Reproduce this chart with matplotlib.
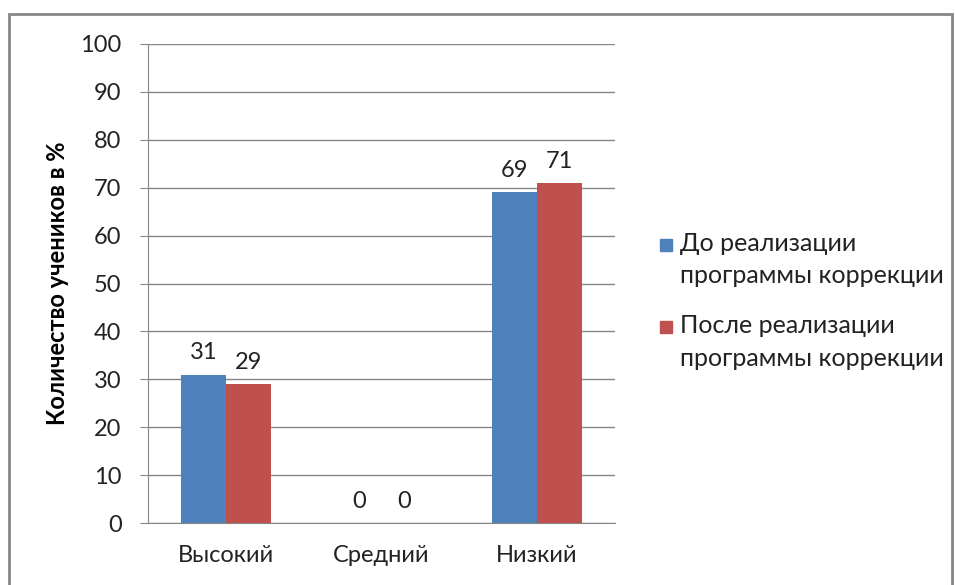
import numpy as np
import matplotlib.pyplot as plt
from matplotlib.patches import Rectangle

plt.rcParams['font.family'] = ['Lato', 'DejaVu Sans']

categories = ['Высокий', 'Средний', 'Низкий']
before = [31, 0, 69]
after = [29, 0, 71]
series_names = ['До реализации\nпрограммы коррекции',
                'После реализации\nпрограммы коррекции']
colors = ['#4F81BD', '#C0504D']

fig = plt.figure(figsize=(9.55, 5.85), dpi=100)
W, H = 955, 585
ax = fig.add_axes([148 / W, 1 - 523 / H, (615 - 148) / W, (523 - 44) / H])

# grey frame around the chart
fig.patches.append(Rectangle((9 / W, -0.05), (952 - 9) / W, 1 - 14 / H + 0.05,
                             transform=fig.transFigure, fill=False,
                             edgecolor='#868686', linewidth=2))

fs = 17
x = np.arange(len(categories))
bw = 0.29
b1 = ax.bar(x - bw / 2, before, bw, color=colors[0], label=series_names[0])
b2 = ax.bar(x + bw / 2, after, bw, color=colors[1], label=series_names[1])

for bars, vals in ((b1, before), (b2, after)):
    for r, v in zip(bars, vals):
        ax.annotate(str(v), (r.get_x() + r.get_width() / 2, v),
                    xytext=(0, 8), textcoords='offset points',
                    ha='center', va='bottom', fontsize=fs, color='#222222')

ax.set_xlim(-0.5, 2.5)
ax.set_ylim(0, 100)
ax.set_yticks(range(0, 101, 10))
ax.set_xticks(x)
ax.set_xticklabels(categories)
ax.tick_params(axis='y', length=6, color='#868686', labelsize=fs, pad=13,
               labelcolor='#222222')
ax.tick_params(axis='x', length=0, labelsize=fs, pad=16, labelcolor='#222222')
ax.yaxis.grid(True, color='#868686', linewidth=1)
ax.set_axisbelow(True)
for s in ('top', 'right'):
    ax.spines[s].set_visible(False)
ax.spines['left'].set_color('#868686')
ax.spines['bottom'].set_color('#868686')

ax.set_ylabel('Количество учеников в %', fontsize=fs, fontweight='bold',
              labelpad=8)

# legend: square aligned with the first text line, like the original
legend_top = [245, 327]
for name, col, yc in zip(series_names, colors, legend_top):
    fig.patches.append(Rectangle((660 / W, 1 - (yc + 6) / H), 12 / W, 12 / H,
                                 transform=fig.transFigure, color=col))
    fig.text(680 / W, 1 - (yc - 13) / H, name, fontsize=18, va='top',
             ha='left', linespacing=1.5, color='#222222')

fig.savefig('out.png', dpi=100)
